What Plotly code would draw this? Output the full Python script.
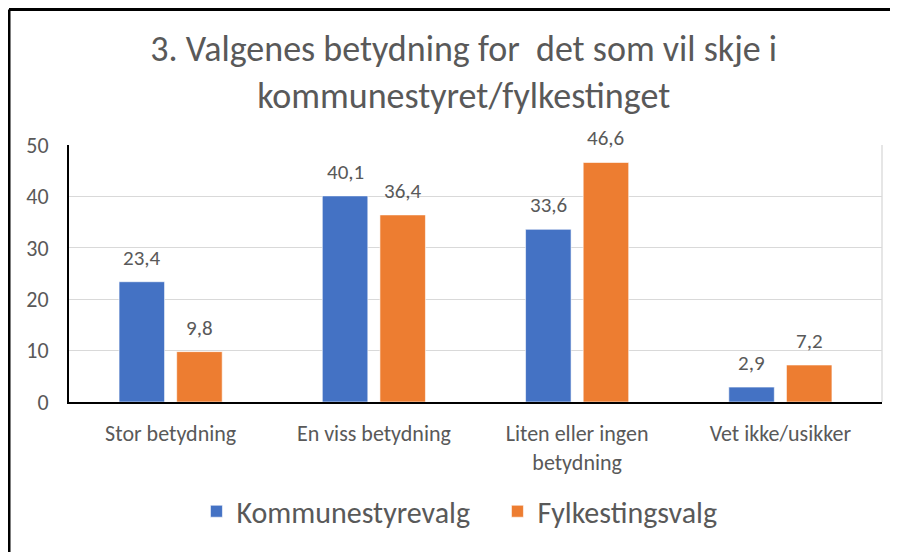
import plotly.graph_objects as go

categories = ["Stor betydning", "En viss betydning", "Liten eller ingen<br>betydning", "Vet ikke/usikker"]
kommune = [23.4, 40.1, 33.6, 2.9]
fylke = [9.8, 36.4, 46.6, 7.2]
series_names = ["Kommunestyrevalg", "Fylkestingsvalg"]
colors = ["#4472C4", "#ED7D31"]
title_text = "3. Valgenes betydning for  det som vil skje i<br>kommunestyret/fylkestinget"

FONT = "Carlito, Calibri, Lato, sans-serif"
TXT = "#595959"

# page body has an 8px margin; figure sized to fill the remaining viewport
W, H = 890, 544
L, R, T, B = 61, 16, 137, 150
BARGAP, GROUPGAP = 0.433, 0.21
cat_px = (W - L - R) / len(categories)
slot_px = (1 - BARGAP) * cat_px / 2

fig = go.Figure()
for i, (name, vals, col) in enumerate(zip(series_names, [kommune, fylke], colors)):
    fig.add_trace(go.Bar(
        x=categories, y=vals, name=name,
        marker=dict(color=col, line=dict(color="rgba(255,255,255,0.6)", width=1)),
    ))
    for c, v in zip(categories, vals):
        fig.add_annotation(
            x=c, y=v, xref="x", yref="y",
            xshift=(i - 0.5) * slot_px, yshift=24,
            text=f"{v:.1f}".replace(".", ","), showarrow=False,
            xanchor="center", yanchor="middle",
            font=dict(family=FONT, size=21, color=TXT),
        )

fig.update_layout(
    width=W, height=H,
    margin=dict(l=L, r=R, t=T, b=B),
    paper_bgcolor="white", plot_bgcolor="white",
    barmode="group", bargap=BARGAP, bargroupgap=GROUPGAP,
    font=dict(family=FONT, color=TXT),
    title=dict(text=title_text, x=0.512, xanchor="center", y=0.903, yanchor="top",
               font=dict(family=FONT, size=36, color=TXT)),
    legend=dict(orientation="h", x=0.527, xanchor="center", y=-0.425, yanchor="middle",
                font=dict(family=FONT, size=30, color=TXT), itemwidth=30, entrywidth=256),
    showlegend=True,
)
fig.update_yaxes(range=[0, 50], dtick=10, showgrid=True, gridcolor="#D9D9D9", gridwidth=1.3,
                 showline=True, linecolor="black", linewidth=2, zeroline=False,
                 tickfont=dict(family=FONT, size=22, color=TXT), ticklabelstandoff=14)
fig.update_xaxes(showline=True, linecolor="black", linewidth=2,
                 tickfont=dict(family=FONT, size=22, color=TXT), ticklabelstandoff=11)

# plot-area right border and outer frame
fig.add_shape(type="line", xref="paper", yref="paper", x0=1, x1=1, y0=0, y1=1,
              line=dict(color="#D9D9D9", width=1.3))
fig.add_shape(type="line", xref="paper", yref="paper", x0=-0.0738, x1=1.05, y0=1.527, y1=1.527,
              line=dict(color="black", width=3))
fig.add_shape(type="line", xref="paper", yref="paper", x0=-0.0738, x1=-0.0738, y0=1.527, y1=-0.65,
              line=dict(color="black", width=3))

fig.write_html("out.html")
